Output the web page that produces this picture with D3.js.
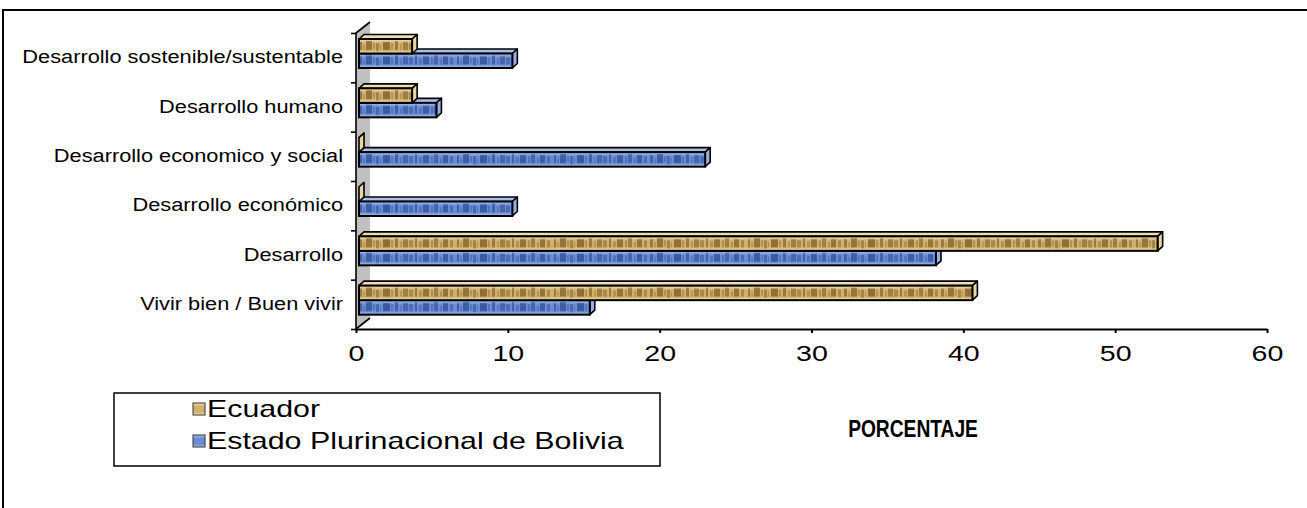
<!DOCTYPE html>
<html>
<head>
<meta charset="utf-8">
<script src="https://cdn.jsdelivr.net/npm/d3@7"></script>
<style>
  html, body { margin: 0; padding: 0; background: #fff; }
  svg { display: block; font-family: "Liberation Sans", Arial, sans-serif; }
</style>
</head>
<body>
<svg id="chart" width="1307" height="508"></svg>
<script>
// ---- data ----
const categories = [
  "Desarrollo sostenible/sustentable",
  "Desarrollo humano",
  "Desarrollo economico y social",
  "Desarrollo económico",
  "Desarrollo",
  "Vivir bien / Buen vivir"
];
const seriesNames = ["Ecuador", "Estado Plurinacional de Bolivia"];
const ecuadorValues = [3.5, 3.5, 0, 0, 52.6, 40.4];
const boliviaValues = [10.1, 5.1, 22.8, 10.1, 38.0, 15.2];
const xTickValues = [0, 10, 20, 30, 40, 50, 60];
const axisTitle = "PORCENTAJE";

// ---- layout ----
const svg = d3.select("#chart");
const plot = { left: 356, right: 1267, top: 33, bottom: 329 };
const depth = { dx: 14, dy: -11 };      // back wall depth
const barDepth = { dx: 5, dy: -4.5 };   // bar 3D thickness
const barShift = 3;                     // bars sit slightly behind the front plane
const barH = 14.5;
const barTopPad = 6;

const x = d3.scaleLinear().domain([0, 60]).range([plot.left, plot.right]);
const y = d3.scaleBand().domain(categories).range([plot.top, plot.bottom]);
const edge = d3.scaleLinear().domain([0, categories.length]).range([plot.top, plot.bottom]);

// ---- textures ----
const defs = svg.append("defs");
const palettes = {
  ecu: { light: "#f2e2b2", mid: "#d0b06c", dark: "#6e4c18", side: "#ead79f", top: "#efdeac" },
  bol: { light: "#acc2f0", mid: "#6a8cd2", dark: "#1f3e88", side: "#98b2e8", top: "#a8bfec" }
};
// blotches of the woven texture: [x offset, width, y offset, height, opacity]
const blotches = [
  [0, 3, 3, 8, 0.55], [4, 2, 6, 5, 0.25], [7, 6, 2, 9, 0.6], [14, 2, 4, 6, 0.3],
  [17, 3, 4, 8, 0.45], [21, 1, 6, 5, 0.35], [24, 7, 3, 8, 0.65], [32, 2, 4, 7, 0.3],
  [36, 3, 2, 9, 0.55], [41, 2, 5, 6, 0.25], [44, 5, 3, 8, 0.5], [50, 4, 4, 7, 0.4],
  [56, 2, 2, 9, 0.55], [60, 3, 5, 6, 0.3], [64, 6, 3, 8, 0.6], [72, 2, 4, 7, 0.35],
  [75, 4, 2, 9, 0.5], [81, 2, 6, 5, 0.3], [84, 5, 3, 8, 0.6], [91, 3, 4, 7, 0.4]
];
Object.entries(palettes).forEach(([key, p]) => {
  const g = defs.append("linearGradient").attr("id", "grad-" + key)
    .attr("x1", 0).attr("y1", 0).attr("x2", 0).attr("y2", 1);
  g.append("stop").attr("offset", "0%").attr("stop-color", p.light);
  g.append("stop").attr("offset", "30%").attr("stop-color", p.mid);
  g.append("stop").attr("offset", "75%").attr("stop-color", p.mid);
  g.append("stop").attr("offset", "100%").attr("stop-color", p.light);

  const pat = defs.append("pattern").attr("id", "blotrow-" + key)
    .attr("patternUnits", "userSpaceOnUse").attr("width", 97).attr("height", 14.5);
  blotches.forEach(([o, w, yo, h, a]) => {
    pat.append("rect").attr("x", o).attr("y", yo).attr("width", w).attr("height", h)
      .attr("fill", p.dark).attr("opacity", a);
  });
});

// ---- outer frame ----
svg.append("path")
  .attr("d", "M3,508 L3,10 L1307,10")
  .attr("fill", "none").attr("stroke", "#000").attr("stroke-width", 2);

// ---- back wall ----
svg.append("path")
  .attr("d", `M${plot.left},${plot.top} L${plot.left + depth.dx},${plot.top + depth.dy} L${plot.left + depth.dx},${plot.bottom + depth.dy} L${plot.left},${plot.bottom} Z`)
  .attr("fill", "#c0c0c0").attr("stroke", "none");
svg.append("path")
  .attr("d", `M${plot.left + depth.dx},${plot.top + depth.dy} L${plot.left},${plot.top} L${plot.left},${plot.bottom} L${plot.left + depth.dx},${plot.bottom + depth.dy}`)
  .attr("fill", "none").attr("stroke", "#000").attr("stroke-width", 1.6);

// ---- bars ----
const rows = [];
categories.forEach((c, i) => {
  rows.push({ cat: c, key: "ecu", value: ecuadorValues[i], slot: 0 });
  rows.push({ cat: c, key: "bol", value: boliviaValues[i], slot: 1 });
});
// lower bar of each pair first, so the upper bar's top face stays visible
const bars = svg.append("g").selectAll("g.bar")
  .data(rows.slice().sort((a, b) => (categories.indexOf(a.cat) - categories.indexOf(b.cat)) || (b.slot - a.slot)))
  .join("g").attr("class", "bar");

bars.each(function (d) {
  const g = d3.select(this);
  const p = palettes[d.key];
  const x0 = x(0) + barShift;
  const x1 = x(d.value) + barShift;
  const y0 = y(d.cat) + barTopPad + d.slot * barH;
  const y1 = y0 + barH;
  const { dx, dy } = barDepth;
  // top face
  g.append("path")
    .attr("d", `M${x0},${y0} L${x0 + dx},${y0 + dy} L${x1 + dx},${y0 + dy} L${x1},${y0} Z`)
    .attr("fill", p.top).attr("stroke", "#000").attr("stroke-width", 1.6).attr("stroke-linejoin", "round");
  // end face
  g.append("path")
    .attr("d", `M${x1},${y0} L${x1 + dx},${y0 + dy} L${x1 + dx},${y1 + dy} L${x1},${y1} Z`)
    .attr("fill", p.side).attr("stroke", "#000").attr("stroke-width", 1.6).attr("stroke-linejoin", "round");
  // front face
  if (x1 > x0) {
    g.append("rect").attr("x", x0).attr("y", y0).attr("width", x1 - x0).attr("height", barH)
      .attr("fill", `url(#grad-${d.key})`);
    g.append("g").attr("transform", `translate(${x0},${y0})`)
      .append("rect").attr("width", x1 - x0).attr("height", barH)
      .attr("fill", `url(#blotrow-${d.key})`);
    g.append("rect").attr("x", x0).attr("y", y0).attr("width", x1 - x0).attr("height", barH)
      .attr("fill", "none").attr("stroke", "#000").attr("stroke-width", 2);
  }
});

// ---- axes ----
const sx = 1.3;   // horizontal text stretch for tick labels
const xAxis = svg.append("g")
  .attr("transform", `translate(0,${plot.bottom})`)
  .call(d3.axisBottom(x).tickValues(xTickValues).tickSize(4).tickPadding(12).tickSizeOuter(0));
xAxis.select(".domain").attr("stroke", "#000").attr("stroke-width", 2);
xAxis.selectAll(".tick line").attr("stroke", "#000").attr("stroke-width", 2);
xAxis.selectAll(".tick text")
  .attr("fill", "#000").attr("font-size", 22)
  .attr("font-family", "'Liberation Sans', Arial, sans-serif")
  .attr("transform", `scale(${sx},1)`);

// category boundary ticks on the wall edge
const yEdgeAxis = svg.append("g")
  .attr("transform", `translate(${plot.left},0)`)
  .call(d3.axisLeft(edge).ticks(categories.length).tickSize(5).tickFormat(""));
yEdgeAxis.select(".domain").remove();
yEdgeAxis.selectAll(".tick line").attr("stroke", "#000").attr("stroke-width", 1.6);

// category labels
const catSx = 1.21;
const yAxis = svg.append("g")
  .attr("transform", `translate(${plot.left},0)`)
  .call(d3.axisLeft(y).tickSize(0).tickPadding(13));
yAxis.select(".domain").remove();
yAxis.selectAll(".tick text")
  .attr("fill", "#000").attr("font-size", 18)
  .attr("font-family", "'Liberation Sans', Arial, sans-serif")
  .attr("x", -13 / catSx)
  .attr("transform", `scale(${catSx},1)`);

// ---- axis title ----
svg.append("text")
  .attr("transform", `translate(913,437) scale(0.8,1)`)
  .attr("text-anchor", "middle").attr("font-size", 24).attr("font-weight", "bold")
  .attr("fill", "#000")
  .text(axisTitle);

// ---- legend ----
const legend = svg.append("g");
legend.append("rect").attr("x", 114).attr("y", 393).attr("width", 546).attr("height", 73)
  .attr("fill", "#fff").attr("stroke", "#000").attr("stroke-width", 1.5);
const legendY = d3.scalePoint().domain(seriesNames).range([409, 441]);
const legendKeys = { "Ecuador": "ecu", "Estado Plurinacional de Bolivia": "bol" };
const li = legend.selectAll("g.item").data(seriesNames).join("g").attr("class", "item")
  .attr("transform", d => `translate(193,${legendY(d)})`);
li.append("rect").attr("x", 0).attr("y", -6).attr("width", 12).attr("height", 12)
  .attr("fill", d => `url(#grad-${legendKeys[d]})`).attr("stroke", "#333").attr("stroke-width", 1);
li.append("text")
  .attr("transform", `translate(14,8) scale(1.32,1)`)
  .attr("font-size", 23).attr("fill", "#000")
  .text(d => d);
</script>
</body>
</html>
